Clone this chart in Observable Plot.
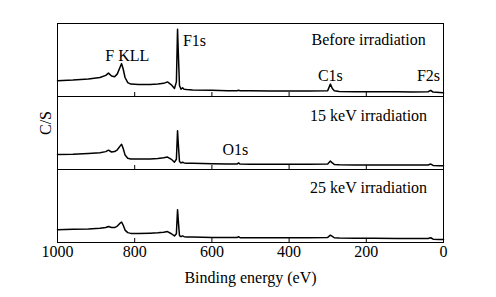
<!DOCTYPE html>
<html>
<head>
<meta charset="utf-8">
<script src="https://cdn.jsdelivr.net/npm/d3@7"></script>
<script src="https://cdn.jsdelivr.net/npm/@observablehq/plot@0.6"></script>
<style>
  html, body { margin: 0; padding: 0; background: #fff; }
  #chart { width: 496px; height: 297px; }
</style>
</head>
<body>
<div id="chart"></div>
<script>
// Panels (top to bottom)
const panels = ["Before irradiation", "15 keV irradiation", "25 keV irradiation"];

// Binding energy (eV)
const energies = [1000, 960, 920, 890, 875, 868, 860, 852, 845, 838, 834, 830, 825, 818, 810, 790, 760, 740, 725, 715, 705, 697, 692, 689, 687, 684, 680, 676, 672, 665, 650, 600, 560, 535, 531, 527, 500, 450, 400, 350, 300, 293, 288, 283, 270, 230, 180, 120, 80, 40, 33, 27, 10, 0];

// Intensity (arb. units, 0-100 per panel)
const before = [21.6, 22.5, 24, 26, 29, 32, 28, 27, 31, 40, 45, 38, 26, 19, 17, 16.5, 16.5, 17, 18, 20, 16, 11, 20, 92, 60, 15, 10, 12, 10, 9.5, 9, 8.5, 8, 8, 8.5, 8, 7.8, 7.5, 7.5, 7.5, 8, 17, 11, 8, 7, 6.5, 6.5, 6.5, 6, 6.5, 8.5, 6, 5.5, 5];
const kev15 = [20.5, 21, 22, 23, 24.5, 26.5, 24, 24.5, 27, 32, 34.5, 29, 20, 15.5, 14.5, 14.5, 14.5, 15, 16, 17, 14, 10, 14, 53, 35, 11, 9, 10, 9, 8.5, 8.5, 8, 7.5, 7.5, 9, 7.5, 7.2, 7.2, 7.2, 7.2, 7.5, 11.5, 9, 7, 6.5, 6.3, 6.3, 6.2, 6, 6.2, 7.5, 5.5, 5, 5];
const kev25 = [17.6, 18, 18.5, 19.5, 20.5, 22, 20.5, 20.5, 22.5, 26.5, 28, 24, 17, 13.5, 12.5, 12.5, 12.8, 13.2, 14, 15, 12, 9, 12, 45, 30, 9.5, 8, 9, 8, 7.5, 7.5, 7, 6.8, 6.8, 8, 6.5, 6.5, 6.5, 6.5, 6.5, 7, 10, 8.5, 6.5, 6, 5.8, 5.8, 5.6, 5.5, 5.6, 6.5, 4.5, 4, 4];

const seriesValues = [before, kev15, kev25];

// x tick labels
const xTicks = [1000, 800, 600, 400, 200, 0];
const innerTicks = [800, 600, 400, 200];

// Peak annotations
const annoText  = ["F KLL", "F1s", "Before irradiation", "C1s", "F2s", "15 keV irradiation", "O1s", "25 keV irradiation"];
const annoPanel = [panels[0], panels[0], panels[0], panels[0], panels[0], panels[1], panels[1], panels[2]];
const annoX     = [819, 645, 194, 293, 39, 194, 539, 194];
const annoY     = [55, 76, 78, 28.5, 28.5, 74, 27.5, 75.5];

const table = panels.flatMap((p, k) => energies.map((e, i) => ({panel: p, e, v: seriesValues[k][i]})));
const annos = annoText.map((t, i) => ({t, panel: annoPanel[i], x: annoX[i], y: annoY[i]}));

const font = "Liberation Serif, Times New Roman, serif";

const chart = Plot.plot({
  width: 496,
  height: 297,
  marginLeft: 57,
  marginRight: 53,
  marginTop: 22,
  marginBottom: 54,
  style: {fontFamily: font, fontSize: "16px", color: "#000", background: "#fff"},
  x: {domain: [1000, 0], ticks: xTicks, tickFormat: d => String(d), tickSize: 0, tickPadding: 3, label: "Binding energy (eV)", labelAnchor: "center", labelArrow: "none", labelOffset: 40},
  y: {domain: [0, 100], axis: null},
  fy: {domain: panels, padding: 0, axis: null, label: null},
  marks: [
    Plot.frame({stroke: "#000", strokeWidth: 1}),
    Plot.ruleX(innerTicks, {y1: 0, y2: 5.5, stroke: "#000", strokeWidth: 1}),
    Plot.line(table, {x: "e", y: "v", fy: "panel", z: "panel", stroke: "#000", strokeWidth: 1.5, curve: "linear"}),
    Plot.text(annos, {x: "x", y: "y", fy: "panel", text: "t", fill: "#000", fontSize: 16, textAnchor: "middle"}),
    Plot.text(["C/S"], {fy: [panels[1]], frameAnchor: "left", dx: -12, dy: 2, rotate: -90, fontSize: 16, fill: "#000"})
  ]
});
document.getElementById("chart").appendChild(chart);
</script>
</body>
</html>
